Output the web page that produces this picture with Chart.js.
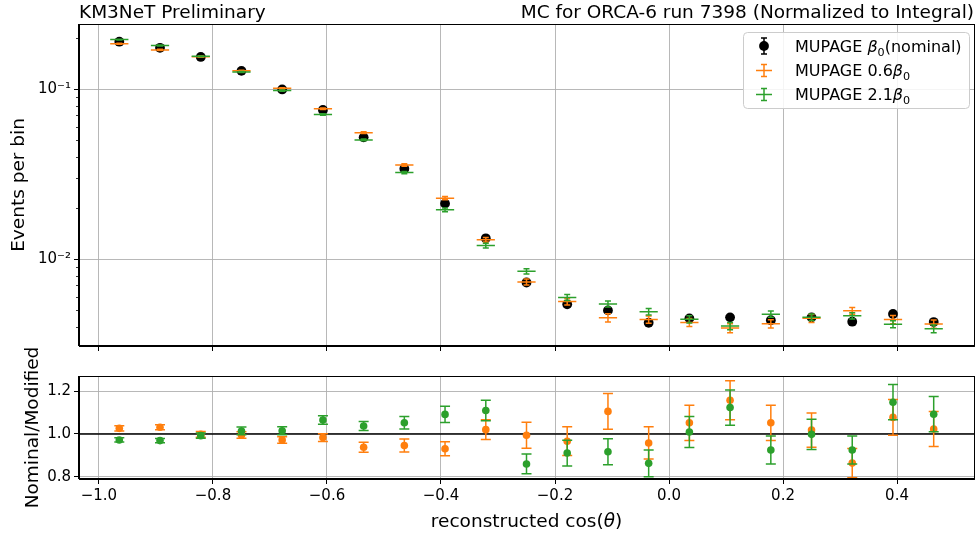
<!DOCTYPE html>
<html>
<head>
<meta charset="utf-8">
<script src="https://cdn.jsdelivr.net/npm/chart.js@4.4.1/dist/chart.umd.min.js"></script>
<style>
  html, body { margin:0; padding:0; background:#fff; }
  #wrap { position:relative; width:979px; height:536px; overflow:hidden; }
  #topChart { position:absolute; left:0; top:0; }
  #ratioChart { position:absolute; left:0; top:330px; }
</style>
</head>
<body>
<div id="wrap">
  <canvas id="topChart" width="979" height="360"></canvas>
  <canvas id="ratioChart" width="979" height="206"></canvas>
</div>
<script>
// ===============================
// data
// ===============================
const binCenters = [-0.9643, -0.8929, -0.8214, -0.75, -0.6786, -0.6071, -0.5357, -0.4643, -0.3929, -0.3214,
  -0.25, -0.1786, -0.1071, -0.0357, 0.0357, 0.1071, 0.1786, 0.25, 0.3214, 0.3929, 0.4643];

const nominal = [0.190, 0.175, 0.1545, 0.128, 0.0995, 0.0754, 0.052, 0.034, 0.0212, 0.01325,
  0.00728, 0.00542, 0.00499, 0.00422, 0.00448, 0.00454, 0.00437, 0.00454, 0.00428, 0.00475, 0.00426];
const nominalErr = [0.001, 0.0009, 0.0008, 0.0007, 0.0006, 0.0005, 0.0004, 0.0003, 0.00025, 0.00018,
  0.00012, 0.0001, 0.0001, 0.00009, 0.00009, 0.00009, 0.00009, 0.00009, 0.00009, 0.00009, 0.00009];

const beta06 = [0.1848, 0.170, 0.155, 0.128, 0.1010, 0.0767, 0.0554, 0.0358, 0.0228, 0.0130,
  0.00733, 0.00562, 0.00452, 0.00441, 0.00424, 0.00393, 0.00416, 0.00448, 0.00496, 0.00441, 0.00415];
const beta06Err = [0.0015, 0.0014, 0.0013, 0.0011, 0.0009, 0.0008, 0.0007, 0.0006, 0.0005, 0.0004,
  0.0003, 0.00025, 0.00025, 0.00022, 0.00023, 0.00024, 0.00023, 0.00024, 0.00023, 0.00024, 0.00023];

const beta21 = [0.1955, 0.1805, 0.1558, 0.1262, 0.0980, 0.0709, 0.0502, 0.0323, 0.0195, 0.0120,
  0.00847, 0.00595, 0.00544, 0.00490, 0.00442, 0.00404, 0.00474, 0.00455, 0.00464, 0.00414, 0.00389];
const beta21Err = [0.0012, 0.0011, 0.001, 0.0009, 0.0008, 0.0007, 0.0006, 0.0005, 0.0005, 0.0004,
  0.0003, 0.00024, 0.00022, 0.00022, 0.00022, 0.0002, 0.0002, 0.0002, 0.0002, 0.0002, 0.0002];

const ratio06 = [1.026, 1.031, 0.998, 0.995, 0.972, 0.983, 0.938, 0.946, 0.931, 1.020,
  0.994, 0.966, 1.105, 0.958, 1.052, 1.157, 1.052, 1.018, 0.864, 1.077, 1.023];
const ratio06Err = [0.012, 0.012, 0.013, 0.015, 0.015, 0.018, 0.023, 0.03, 0.033, 0.046,
  0.061, 0.067, 0.083, 0.075, 0.082, 0.091, 0.082, 0.08, 0.068, 0.083, 0.082];

const ratio21 = [0.972, 0.969, 0.992, 1.014, 1.015, 1.065, 1.037, 1.052, 1.091, 1.109,
  0.860, 0.911, 0.917, 0.863, 1.009, 1.123, 0.925, 0.998, 0.925, 1.148, 1.092];
const ratio21Err = [0.01, 0.01, 0.012, 0.018, 0.019, 0.02, 0.021, 0.029, 0.038, 0.048,
  0.046, 0.06, 0.061, 0.062, 0.072, 0.082, 0.065, 0.071, 0.065, 0.082, 0.082];

const xTicks = [-1.0, -0.8, -0.6, -0.4, -0.2, 0.0, 0.2, 0.4];
const logTicks = [0.01, 0.1];
const ratioTicks = [0.8, 1.0, 1.2];

const X_MIN = -1.035, X_MAX = 0.535;
const XERR = 0.016;

const BLACK = '#000000', ORANGE = '#ff7f0e', GREEN = '#2ca02c', GRID = '#b0b0b0';
const FONT = '"DejaVu Sans"';

Chart.defaults.font.family = FONT;
Chart.defaults.color = '#000';

function pts(ys){ return binCenters.map((x,i)=>({x:x, y:ys[i]})); }

function fmtX(v){ return v.toFixed(1).replace('-', '\u2212'); }

const SUP = {'-':'\u207b','0':'\u2070','1':'\u00b9','2':'\u00b2','3':'\u00b3'};
function fmtLog(v){
  const e = String(Math.round(Math.log10(v)));
  return '10' + e.split('').map(c=>SUP[c]).join('');
}

// ===============================
// plugins
// ===============================
const errorBars = {
  id:'errorBars',
  beforeDatasetDraw(chart, args){
    const ds = chart.data.datasets[args.index];
    if(!ds.errors) return;
    const ctx = chart.ctx, xs = chart.scales.x, ys = chart.scales.y;
    ctx.save();
    ctx.strokeStyle = ds.barColor;
    ctx.lineWidth = ds.barWidth;
    ds.data.forEach((p,i)=>{
      const e = ds.errors[i];
      const px = xs.getPixelForValue(p.x);
      const py = ys.getPixelForValue(p.y);
      const y1 = ys.getPixelForValue(p.y + e);
      const y2 = ys.getPixelForValue(p.y - e);
      ctx.beginPath();
      ctx.moveTo(px, y1); ctx.lineTo(px, y2);
      ctx.moveTo(px - ds.cap, y1); ctx.lineTo(px + ds.cap, y1);
      ctx.moveTo(px - ds.cap, y2); ctx.lineTo(px + ds.cap, y2);
      if(ds.xErr){
        ctx.moveTo(xs.getPixelForValue(p.x - ds.xErr), py);
        ctx.lineTo(xs.getPixelForValue(p.x + ds.xErr), py);
      }
      ctx.stroke();
    });
    ctx.restore();
  }
};

const frame = {
  id:'frame',
  afterDraw(chart){
    const a = chart.chartArea, ctx = chart.ctx;
    ctx.save();
    ctx.strokeStyle = '#000';
    ctx.lineWidth = 1;
    ctx.strokeRect(Math.round(a.left)-0.5, Math.round(a.top)+0.5,
                   Math.round(a.right-a.left)+1, Math.round(a.bottom-a.top)-1);
    ctx.restore();
  }
};

// rich text: normal / italic / subscript pieces
function richWidth(ctx, parts, size){
  let w = 0;
  parts.forEach(p=>{
    const fs = p.sub ? size*0.7 : size;
    ctx.font = (p.it ? 'italic ' : '') + fs + 'px ' + FONT;
    w += ctx.measureText(p.t).width;
  });
  return w;
}
function drawRich(ctx, x, y, parts, size){
  parts.forEach(p=>{
    const fs = p.sub ? size*0.7 : size;
    ctx.font = (p.it ? 'italic ' : '') + fs + 'px ' + FONT;
    ctx.fillText(p.t, x, y + (p.sub ? size*0.25 : 0));
    x += ctx.measureText(p.t).width;
  });
}

const topDecor = {
  id:'topDecor',
  afterDraw(chart){
    const ctx = chart.ctx, a = chart.chartArea, ys = chart.scales.y;
    ctx.save();
    // minor log ticks
    ctx.strokeStyle = '#000'; ctx.lineWidth = 0.8;
    [0.001, 0.01, 0.1].forEach(d=>{
      for(let k=2;k<=9;k++){
        const v = k*d;
        if(v < ys.min || v > ys.max) continue;
        const py = Math.round(ys.getPixelForValue(v)) + 0.5;
        ctx.beginPath(); ctx.moveTo(a.left, py); ctx.lineTo(a.left-3, py); ctx.stroke();
      }
    });
    // titles
    ctx.fillStyle = '#000';
    ctx.font = '18.5px ' + FONT;
    ctx.textBaseline = 'alphabetic';
    ctx.textAlign = 'left';
    ctx.fillText('KM3NeT Preliminary', a.left, 18);
    ctx.textAlign = 'right';
    ctx.fillText('MC for ORCA-6 run 7398 (Normalized to Integral)', a.right, 18);

    // legend
    const bx = 743, by = 32, bw = 226, bh = 76;
    ctx.fillStyle = 'rgba(255,255,255,0.85)';
    ctx.strokeStyle = '#cccccc'; ctx.lineWidth = 1;
    ctx.beginPath(); ctx.roundRect(bx+0.5, by+0.5, bw, bh, 4); ctx.fill(); ctx.stroke();

    const mx = 764, tx = 795, rows = [46, 70.5, 94.5];
    // row 1: black point with error bar
    ctx.strokeStyle = BLACK; ctx.lineWidth = 1.5;
    ctx.beginPath();
    ctx.moveTo(mx, rows[0]-8); ctx.lineTo(mx, rows[0]+8);
    ctx.moveTo(mx-3, rows[0]-8); ctx.lineTo(mx+3, rows[0]-8);
    ctx.moveTo(mx-3, rows[0]+8); ctx.lineTo(mx+3, rows[0]+8);
    ctx.stroke();
    ctx.fillStyle = BLACK;
    ctx.beginPath(); ctx.arc(mx, rows[0], 4.9, 0, Math.PI*2); ctx.fill();
    // rows 2,3: crosses
    [[ORANGE, rows[1]], [GREEN, rows[2]]].forEach(([c, ry])=>{
      ctx.strokeStyle = c; ctx.lineWidth = 1.5;
      ctx.beginPath();
      ctx.moveTo(mx-8, ry); ctx.lineTo(mx+8, ry);
      ctx.moveTo(mx, ry-6); ctx.lineTo(mx, ry+6);
      ctx.moveTo(mx-3, ry-6); ctx.lineTo(mx+3, ry-6);
      ctx.moveTo(mx-3, ry+6); ctx.lineTo(mx+3, ry+6);
      ctx.stroke();
    });
    ctx.fillStyle = '#000';
    ctx.textAlign = 'left';
    const fs = 16, off = 5.8;
    drawRich(ctx, tx, rows[0]+off, [{t:'MUPAGE '},{t:'\u03b2',it:true},{t:'0',sub:true},{t:'(nominal)'}], fs);
    drawRich(ctx, tx, rows[1]+off, [{t:'MUPAGE 0.6'},{t:'\u03b2',it:true},{t:'0',sub:true}], fs);
    drawRich(ctx, tx, rows[2]+off, [{t:'MUPAGE 2.1'},{t:'\u03b2',it:true},{t:'0',sub:true}], fs);
    ctx.restore();
  }
};

const unityLine = {
  id:'unityLine',
  beforeDatasetsDraw(chart){
    const ctx = chart.ctx, a = chart.chartArea, ys = chart.scales.y;
    const py = ys.getPixelForValue(1.0);
    ctx.save();
    ctx.strokeStyle = '#000'; ctx.lineWidth = 1.5;
    ctx.beginPath(); ctx.moveTo(a.left, py); ctx.lineTo(a.right, py); ctx.stroke();
    ctx.restore();
  }
};

// x title with italic theta
const xTitle = {
  id:'xTitle',
  afterDraw(chart){
    const ctx = chart.ctx, a = chart.chartArea;
    const parts = [{t:'reconstructed cos('},{t:'\u03b8',it:true},{t:')'}];
    const size = 18.5;
    ctx.save();
    ctx.fillStyle = '#000';
    ctx.textAlign = 'left';
    ctx.textBaseline = 'alphabetic';
    const w = richWidth(ctx, parts, size);
    drawRich(ctx, (a.left + a.right)/2 - w/2, chart.height - 9.5, parts, size);
    ctx.restore();
  }
};

// ===============================
// axes
// ===============================
function xAxis(withLabels, h){
  return {
    type:'linear', min:X_MIN, max:X_MAX,
    afterBuildTicks: s => { s.ticks = xTicks.map(v=>({value:v})); },
    afterFit: s => { s.height = h; },
    grid:{ color:GRID, lineWidth:0.9, drawTicks:true, tickLength:5, tickColor:'#000', tickWidth:1 },
    border:{ display:true, color:'#000', width:1 },
    ticks:{ display:withLabels, padding:3, font:{size:15}, color:'#000', maxRotation:0, autoSkip:false,
            callback: v => fmtX(v) }
  };
}

// ===============================
// top panel
// ===============================
new Chart(document.getElementById('topChart'), {
  type:'scatter',
  data:{
    datasets:[
      { label:'MUPAGE 2.1b0', data:pts(beta21), pointRadius:0, order:1,
        errors:beta21Err, xErr:XERR, barColor:GREEN, barWidth:1.5, cap:3 },
      { label:'MUPAGE 0.6b0', data:pts(beta06), pointRadius:0, order:2,
        errors:beta06Err, xErr:XERR, barColor:ORANGE, barWidth:1.5, cap:3 },
      { label:'MUPAGE b0 (nominal)', data:pts(nominal), pointRadius:4.9, borderWidth:0,
        backgroundColor:BLACK, order:3,
        errors:nominalErr, barColor:BLACK, barWidth:1.5, cap:3 }
    ]
  },
  options:{
    responsive:false,
    animation:false,
    events:[],
    layout:{ padding:{ left:0, right:5, top:24, bottom:0 } },
    plugins:{ legend:{display:false}, tooltip:{enabled:false} },
    scales:{
      x: xAxis(false, 14),
      y:{
        type:'logarithmic', min:0.00308, max:0.2415,
        afterBuildTicks: s => { s.ticks = logTicks.map(v=>({value:v, major:true})); },
        afterFit: s => { s.width = 79; },
        grid:{ color:GRID, lineWidth:0.9, drawTicks:true, tickLength:5, tickColor:'#000', tickWidth:1 },
        border:{ display:true, color:'#000', width:1 },
        ticks:{ padding:3, font:{size:15}, color:'#000', autoSkip:false, callback: v => fmtLog(v) },
        title:{ display:true, text:'Events per bin', font:{size:18.5}, color:'#000', padding:{top:8, bottom:0} }
      }
    }
  },
  plugins:[errorBars, frame, topDecor]
});

// ===============================
// ratio panel
// ===============================
new Chart(document.getElementById('ratioChart'), {
  type:'scatter',
  data:{
    datasets:[
      { label:'2.1', data:pts(ratio21), pointRadius:3.8, borderWidth:0, backgroundColor:GREEN, order:1,
        errors:ratio21Err, barColor:GREEN, barWidth:1.5, cap:5 },
      { label:'0.6', data:pts(ratio06), pointRadius:3.8, borderWidth:0, backgroundColor:ORANGE, order:2,
        errors:ratio06Err, barColor:ORANGE, barWidth:1.5, cap:5 }
    ]
  },
  options:{
    responsive:false,
    animation:false,
    events:[],
    layout:{ padding:{ left:0, right:5, top:46, bottom:0 } },
    plugins:{ legend:{display:false}, tooltip:{enabled:false} },
    scales:{
      x: xAxis(true, 57),
      y:{
        type:'linear', min:0.79, max:1.27,
        afterBuildTicks: s => { s.ticks = ratioTicks.map(v=>({value:v})); },
        afterFit: s => { s.width = 79; },
        grid:{ color:GRID, lineWidth:0.9, drawTicks:true, tickLength:5, tickColor:'#000', tickWidth:1 },
        border:{ display:true, color:'#000', width:1 },
        ticks:{ padding:3, font:{size:15}, color:'#000', autoSkip:false, callback: v => v.toFixed(1) },
        title:{ display:true, text:'Nominal/Modified', font:{size:18.5}, color:'#000', padding:{top:22, bottom:0} }
      }
    }
  },
  plugins:[unityLine, errorBars, frame, xTitle]
});
</script>
</body>
</html>
